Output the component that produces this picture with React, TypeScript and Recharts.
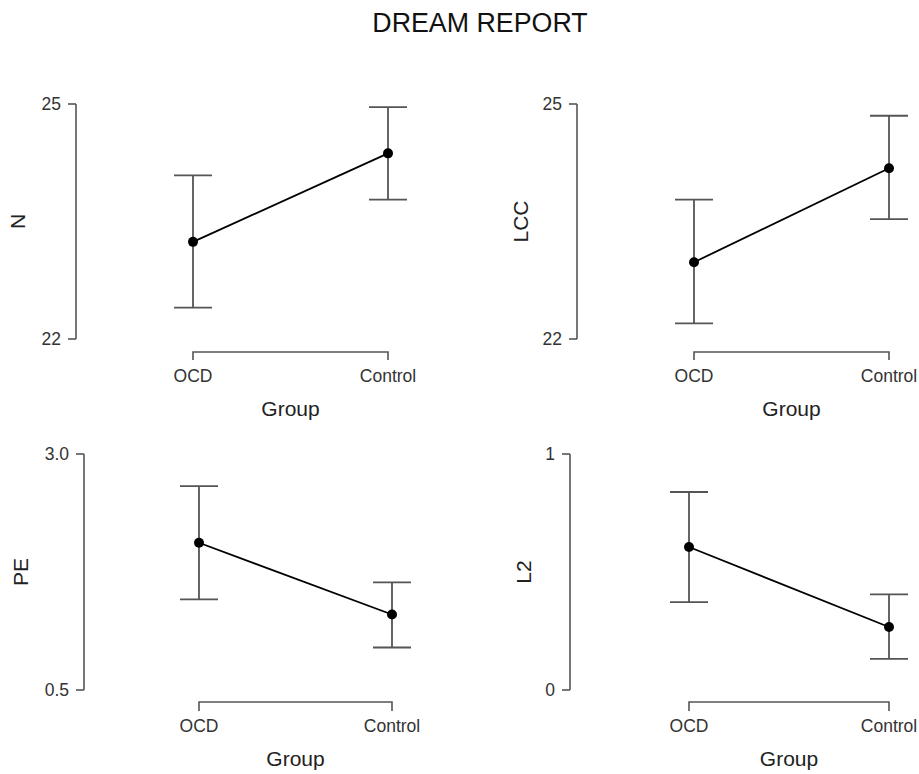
import { LineChart, Line, XAxis, YAxis, ErrorBar, ReferenceLine } from "recharts";

const groups = ["OCD", "Control"];

// means with lower / upper ends of the error bars
const nMeans = [23.24, 24.37];
const nLower = [22.4, 23.78];
const nUpper = [24.09, 24.96];
const nTicks = [22, 25];

const lccMeans = [22.98, 24.18];
const lccLower = [22.2, 23.53];
const lccUpper = [23.78, 24.85];
const lccTicks = [22, 25];

const peMeans = [2.06, 1.3];
const peLower = [1.46, 0.95];
const peUpper = [2.66, 1.64];
const peTicks = [0.5, 3.0];

const l2Means = [0.606, 0.267];
const l2Lower = [0.372, 0.132];
const l2Upper = [0.839, 0.405];
const l2Ticks = [0, 1];

const FONT = "'Liberation Sans', Arial, Helvetica, sans-serif";
const AXIS = "#555";
const TEXT = "#333";

const buildRows = (means: number[], lower: number[], upper: number[]) =>
  groups.map((group, i) => ({
    group,
    mean: means[i],
    err: [means[i] - lower[i], upper[i] - means[i]],
  }));

interface PanelProps {
  means: number[];
  lower: number[];
  upper: number[];
  ticks: number[];
  digits: number;
  yLabel: string;
  left: number;
  top: number;
  height: number;
  marginTop: number;
  marginRight: number;
  yWidth: number;
  xHeight: number;
  padL: number;
  padR: number;
  labelX: number;
  gap: number;
  tickLen: number;
  tickDy: number;
  titleDy: number;
}

const Panel = (p: PanelProps) => {
  const rows = buildRows(p.means, p.lower, p.upper);
  const [lo, hi] = p.ticks;
  return (
    <div style={{ position: "absolute", left: p.left, top: p.top }}>
      <LineChart
        width={459}
        height={p.height}
        data={rows}
        margin={{ top: p.marginTop, right: p.marginRight, bottom: 0, left: 0 }}
      >
        <XAxis
          dataKey="group"
          type="category"
          scale="point"
          padding={{ left: p.padL, right: p.padR }}
          axisLine={false}
          tickLine={false}
          tickSize={0}
          tickMargin={0}
          height={p.xHeight}
          interval={0}
          tick={({ x, y, payload }: any) => (
            <text
              x={x}
              y={y + p.tickDy}
              textAnchor="middle"
              fontSize={17.5}
              fontFamily={FONT}
              fill={TEXT}
            >
              {payload.value}
            </text>
          )}
          label={({ viewBox }: any) => {
            const cx = viewBox.x + p.padL + (viewBox.width - p.padL - p.padR) / 2;
            return (
              <text
                x={cx}
                y={viewBox.y + p.titleDy}
                textAnchor="middle"
                fontSize={21}
                fontFamily={FONT}
                fill="#222"
              >
                Group
              </text>
            );
          }}
        />
        <YAxis
          type="number"
          domain={[lo, hi]}
          ticks={p.ticks}
          width={p.yWidth}
          axisLine={{ stroke: AXIS, strokeWidth: 1.6 }}
          tickLine={{ stroke: AXIS, strokeWidth: 1.6 }}
          tickSize={8}
          tickMargin={7}
          tick={{ fontSize: 17.5, fill: TEXT, fontFamily: FONT }}
          tickFormatter={(v: number) => v.toFixed(p.digits)}
          label={({ viewBox }: any) => {
            const cy = viewBox.y + viewBox.height / 2;
            const cx = viewBox.x + p.labelX;
            return (
              <text
                x={cx}
                y={cy}
                transform={`rotate(-90 ${cx} ${cy})`}
                textAnchor="middle"
                dominantBaseline="central"
                fontSize={21}
                fontFamily={FONT}
                fill="#222"
              >
                {p.yLabel}
              </text>
            );
          }}
        />
        <ReferenceLine
          segment={[
            { x: groups[0], y: lo },
            { x: groups[groups.length - 1], y: lo },
          ]}
          ifOverflow="visible"
          shape={(s: any) => {
            const yy = s.y1 + p.gap;
            return (
              <path
                d={`M${s.x1},${yy + p.tickLen} L${s.x1},${yy} L${s.x2},${yy} L${s.x2},${yy + p.tickLen}`}
                fill="none"
                stroke={AXIS}
                strokeWidth={1.6}
              />
            );
          }}
        />
        <Line
          dataKey="mean"
          type="linear"
          stroke="#000"
          strokeWidth={1.8}
          dot={{ r: 5, fill: "#000", stroke: "#000", strokeWidth: 0 }}
          activeDot={false}
          isAnimationActive={false}
        >
          <ErrorBar
            dataKey="err"
            direction="y"
            width={19}
            stroke={AXIS}
            strokeWidth={1.8}
          />
        </Line>
      </LineChart>
    </div>
  );
};

export default function App() {
  return (
    <div
      style={{
        position: "absolute",
        left: 0,
        top: 0,
        width: 919,
        height: 774,
        background: "#fff",
        fontFamily: FONT,
      }}
    >
      <svg width={919} height={50} style={{ position: "absolute", left: 0, top: 0 }}>
        <text x={480} y={32} textAnchor="middle" fontSize={26.8} fontFamily={FONT} fill="#111">
          DREAM REPORT
        </text>
      </svg>
      <Panel
        means={nMeans}
        lower={nLower}
        upper={nUpper}
        ticks={nTicks}
        digits={0}
        yLabel="N"
        left={0}
        top={0}
        height={420}
        marginTop={104}
        marginRight={39}
        yWidth={76}
        xHeight={81}
        padL={117}
        padR={32}
        labelX={17}
        gap={13}
        tickLen={8}
        tickDy={43}
        titleDy={77}
      />
      <Panel
        means={lccMeans}
        lower={lccLower}
        upper={lccUpper}
        ticks={lccTicks}
        digits={0}
        yLabel="LCC"
        left={460}
        top={0}
        height={420}
        marginTop={104}
        marginRight={10}
        yWidth={117}
        xHeight={81}
        padL={117}
        padR={20}
        labelX={60}
        gap={13}
        tickLen={8}
        tickDy={43}
        titleDy={77}
      />
      <Panel
        means={peMeans}
        lower={peLower}
        upper={peUpper}
        ticks={peTicks}
        digits={1}
        yLabel="PE"
        left={0}
        top={400}
        height={374}
        marginTop={54}
        marginRight={39}
        yWidth={84}
        xHeight={84}
        padL={115}
        padR={28}
        labelX={20}
        gap={12}
        tickLen={9}
        tickDy={42}
        titleDy={76}
      />
      <Panel
        means={l2Means}
        lower={l2Lower}
        upper={l2Upper}
        ticks={l2Ticks}
        digits={0}
        yLabel="L2"
        left={460}
        top={400}
        height={374}
        marginTop={54}
        marginRight={10}
        yWidth={110}
        xHeight={84}
        padL={119}
        padR={20}
        labelX={63}
        gap={12}
        tickLen={9}
        tickDy={42}
        titleDy={76}
      />
    </div>
  );
}
